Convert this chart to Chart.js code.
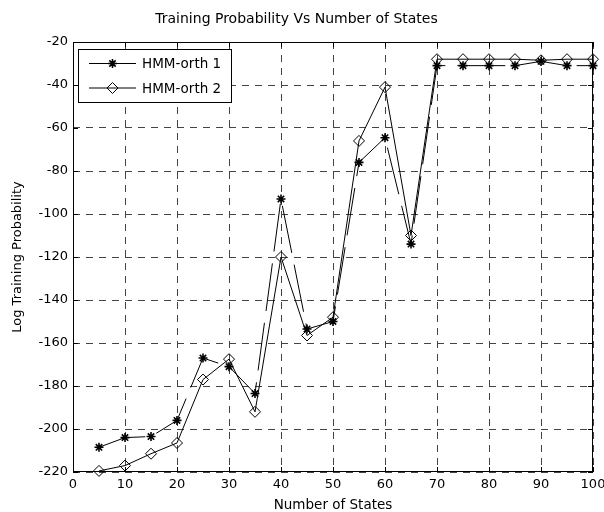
<!DOCTYPE html>
<html>
<head>
<meta charset="utf-8">
<title>Training Probability Vs Number of States</title>
<script src="https://cdn.jsdelivr.net/npm/chart.js@4.4.1/dist/chart.umd.min.js"></script>
<style>
  html, body { margin: 0; padding: 0; background: #fff; }
  canvas { display: block; }
</style>
</head>
<body>
<canvas id="grafica" width="604" height="512"></canvas>
<script>
// datos
const estados = [5, 10, 15, 20, 25, 30, 35, 40, 45, 50, 55, 60, 65, 70, 75, 80, 85, 90, 95, 100];
const hmmOrth1 = [-208.5, -204, -203.5, -196, -167, -171, -183.5, -93, -153.5, -150, -76, -64.5, -114, -31, -31, -31, -31, -29, -31, -31];
const hmmOrth2 = [-219.5, -217, -211.5, -206.5, -177, -167.5, -192, -120, -156.5, -148, -66, -41, -110, -28, -28, -28, -28, -28.5, -28, -28];
const ticksX = [0, 10, 20, 30, 40, 50, 60, 70, 80, 90, 100];
const ticksY = [-220, -200, -180, -160, -140, -120, -100, -80, -60, -40, -20];
const nombres = ["HMM-orth 1", "HMM-orth 2"];

const fuente = "'DejaVu Sans', sans-serif";

function puntos(valores) {
    return estados.map((x, i) => ({ x: x, y: valores[i] }));
}

function dibujarEstrella(ctx, x, y, r) {
    ctx.beginPath();
    for (let k = 0; k < 4; k++) {
        const a = (k * Math.PI) / 4;
        ctx.moveTo(x - Math.cos(a) * r, y - Math.sin(a) * r);
        ctx.lineTo(x + Math.cos(a) * r, y + Math.sin(a) * r);
    }
    ctx.stroke();
}

function dibujarRombo(ctx, x, y, r) {
    ctx.beginPath();
    ctx.moveTo(x, y - r);
    ctx.lineTo(x + r, y);
    ctx.lineTo(x, y + r);
    ctx.lineTo(x - r, y);
    ctx.closePath();
    ctx.stroke();
}

// marco, marcas interiores y leyenda estilo matlab
const marcoPlugin = {
    id: "marco",
    afterDraw(chart) {
        const ctx = chart.ctx;
        const area = chart.chartArea;
        const sx = chart.scales.x;
        const sy = chart.scales.y;
        ctx.save();
        ctx.strokeStyle = "#000";
        ctx.lineWidth = 1;
        ctx.setLineDash([]);
        ctx.strokeRect(area.left + 0.5, area.top + 0.5, area.right - area.left - 1, area.bottom - area.top - 1);
        ctx.beginPath();
        ticksX.forEach((v) => {
            const px = Math.round(sx.getPixelForValue(v)) + 0.5;
            ctx.moveTo(px, area.bottom);
            ctx.lineTo(px, area.bottom - 5);
            ctx.moveTo(px, area.top);
            ctx.lineTo(px, area.top + 5);
        });
        ticksY.forEach((v) => {
            const py = Math.round(sy.getPixelForValue(v)) + 0.5;
            ctx.moveTo(area.left, py);
            ctx.lineTo(area.left + 5, py);
            ctx.moveTo(area.right, py);
            ctx.lineTo(area.right - 5, py);
        });
        ctx.stroke();

        // leyenda
        const lx = 78, ly = 49, lw = 153, lh = 53;
        ctx.fillStyle = "#fff";
        ctx.fillRect(lx, ly, lw, lh);
        ctx.strokeRect(lx + 0.5, ly + 0.5, lw, lh);
        ctx.font = "13.5px " + fuente;
        ctx.textBaseline = "middle";
        ctx.textAlign = "left";
        ctx.fillStyle = "#000";
        const filas = [63.5, 88];
        filas.forEach((fy, i) => {
            ctx.lineWidth = 1;
            ctx.beginPath();
            ctx.moveTo(89, fy);
            ctx.lineTo(136, fy);
            ctx.stroke();
            if (i === 0) {
                ctx.lineWidth = 1.6;
                dibujarEstrella(ctx, 112.5, fy, 4.5);
            } else {
                ctx.lineWidth = 1;
                dibujarRombo(ctx, 112.5, fy, 5.5);
            }
            ctx.fillText(nombres[i], 142, fy + 1);
        });
        ctx.restore();
    },
};

const ctx = document.getElementById("grafica");
const grafica = new Chart(ctx, {
    type: "line",
    data: {
        datasets: [
            {
                label: nombres[0],
                data: puntos(hmmOrth1),
                borderColor: "#000",
                borderWidth: 1,
                borderDash: [48, 12],
                pointStyle: "star",
                pointRadius: 4.5,
                pointBorderWidth: 1.6,
                pointBorderColor: "#000",
                pointBackgroundColor: "#000",
                tension: 0,
                clip: false,
            },
            {
                label: nombres[1],
                data: puntos(hmmOrth2),
                borderColor: "#000",
                borderWidth: 1,
                pointStyle: "rectRot",
                pointRadius: 5.5,
                pointBorderWidth: 1,
                pointBorderColor: "#000",
                pointBackgroundColor: "rgba(0,0,0,0)",
                tension: 0,
                clip: false,
            },
        ],
    },
    options: {
        responsive: false,
        animation: false,
        devicePixelRatio: 1,
        layout: { padding: { left: 0, right: 11, top: 0, bottom: 0 } },
        plugins: {
            legend: { display: false },
            tooltip: { enabled: false },
            title: {
                display: true,
                text: "Training Probability Vs Number of States",
                color: "#000",
                font: { family: fuente, size: 14, weight: "normal" },
                padding: { top: 10.6, bottom: 14.6 },
            },
        },
        scales: {
            x: {
                type: "linear",
                min: ticksX[0],
                max: ticksX[ticksX.length - 1],
                afterFit(scale) {
                    scale.height = 40;
                    // el "100" se corta en el borde, como en la figura
                    scale.paddingRight = 0;
                },
                ticks: {
                    stepSize: ticksX[1] - ticksX[0],
                    color: "#000",
                    font: { family: fuente, size: 13 },
                    padding: 5,
                    maxRotation: 0,
                },
                grid: {
                    color: "#444",
                    lineWidth: 1,
                    drawTicks: false,
                },
                border: { display: false, dash: [7, 6] },
                title: {
                    display: true,
                    text: "Number of States",
                    color: "#000",
                    font: { family: fuente, size: 13.5, lineHeight: 1 },
                    padding: { top: 0, bottom: 0 },
                },
            },
            y: {
                type: "linear",
                min: ticksY[0],
                max: ticksY[ticksY.length - 1],
                afterFit(scale) {
                    scale.width = 73;
                },
                ticks: {
                    stepSize: ticksY[1] - ticksY[0],
                    color: "#000",
                    font: { family: fuente, size: 13 },
                    padding: 5,
                },
                grid: {
                    color: "#444",
                    lineWidth: 1,
                    drawTicks: false,
                },
                border: { display: false, dash: [7, 6] },
                title: {
                    display: true,
                    text: "Log Training Probability",
                    color: "#000",
                    font: { family: fuente, size: 13, lineHeight: 1 },
                    padding: { top: 11.5, bottom: 0 },
                },
            },
        },
    },
    plugins: [marcoPlugin],
});
</script>
</body>
</html>
